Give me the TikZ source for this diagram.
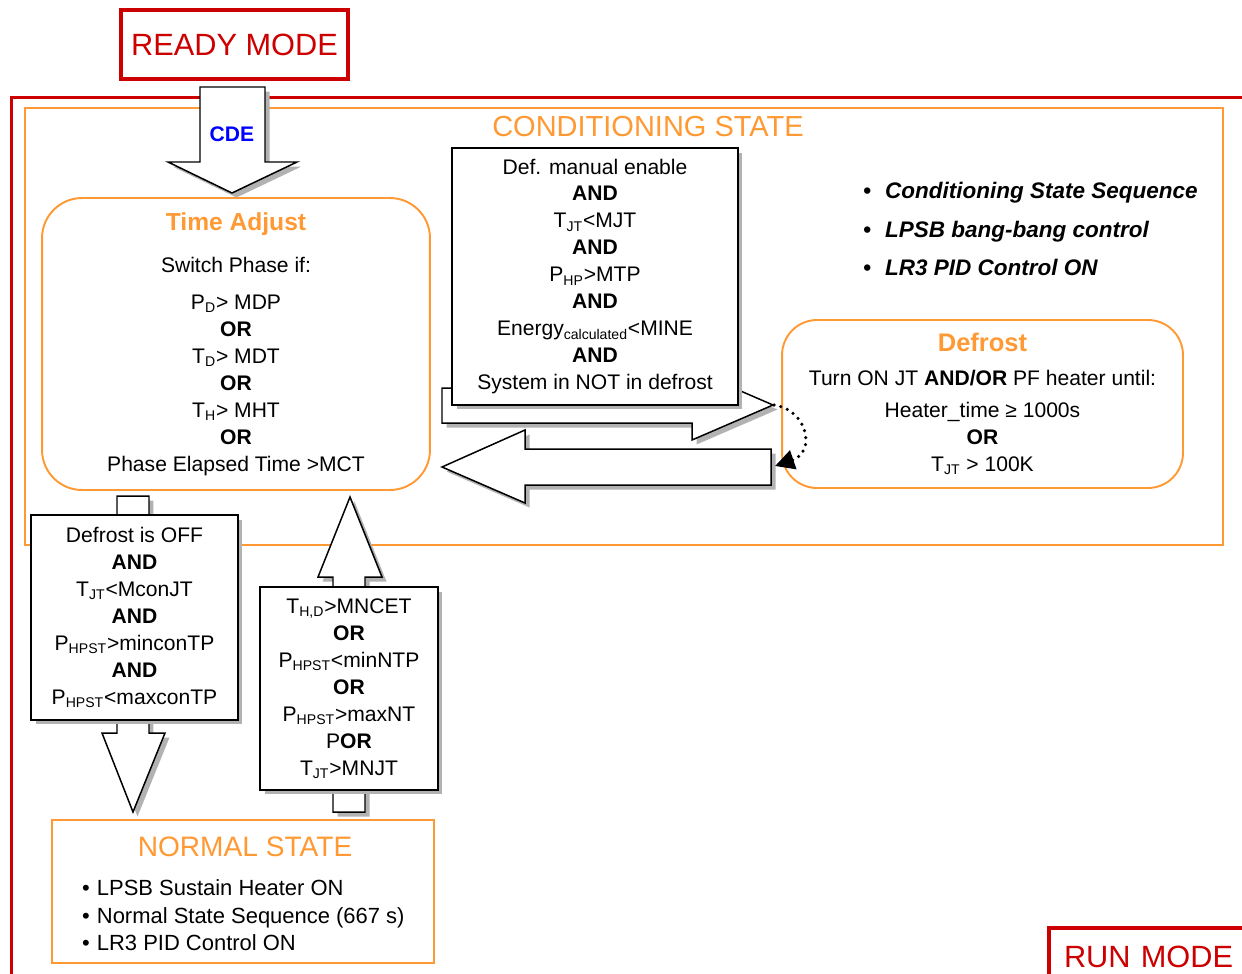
\documentclass[tikz,border=0pt]{standalone}
\usepackage{fontspec}
\setmainfont{Liberation Sans}
\usepackage{xcolor}
\usepackage{tikz}
\usetikzlibrary{arrows.meta,positioning,shadows}
\definecolor{modered}{HTML}{CC0000}
\definecolor{stateorange}{HTML}{FF9933}
\definecolor{cdeblue}{HTML}{0000FF}
\newcommand{\lsub}[1]{\textsubscript{#1}}
\newcommand{\fsz}[2]{\fontsize{#1}{#2}\selectfont}

\begin{document}
\begin{tikzpicture}[
    x=0.02cm, y=-0.02cm,
    modebox/.style={draw=modered, line width=2pt, text=modered, font=\fsz{17.5}{21}},
    statebox/.style={draw=stateorange, line width=1.1pt},
    roundstate/.style={statebox, rounded corners=0.8cm, align=center, font=\fsz{12}{15.36}},
    boxshadow/.style={drop shadow={shadow xshift=0.09cm, shadow yshift=-0.09cm, fill=black!30, opacity=1}},
    condbox/.style={draw, fill=white, line width=0.85pt, align=center, font=\fsz{12}{15.36}, boxshadow},
    blockarrow/.style={draw, fill=white, line width=0.85pt, line join=miter, boxshadow},
    statetitle/.style={text=stateorange, font=\fsz{16.5}{20}},
    dottedarrow/.style={line width=2pt, dash pattern=on 0pt off 4pt, line cap=round, -{Triangle[length=11pt,width=11pt]}}
]
\useasboundingbox (0,0) rectangle (1242,974);
\clip (0,0) rectangle (1242,974);

% run mode frame and ready mode
\node[draw=modered, line width=2pt, outer sep=0, anchor=north west, minimum width=26cm, minimum height=19cm] (runframe) at (11.5,97.5) {};
\node[modebox, minimum width=4.54cm, minimum height=1.38cm] (ready) at (234.5,44.5) {READY MODE};

% conditioning state
\node[statebox, outer sep=0, minimum width=23.96cm, minimum height=8.74cm] (cond) at (624,326.5) {};
\node[statetitle] (condtitle) at (648,127) {CONDITIONING STATE};

\node[roundstate, minimum width=7.76cm, minimum height=5.84cm] (timeadj) at (236,344) {%
  {\color{stateorange}\bfseries\fsz{14}{17}Time Adjust}\\[8.5pt]
  Switch Phase if:\\[5.7pt]
  P\lsub{D}> MDP\\
  \textbf{OR}\\
  T\lsub{D}> MDT\\
  \textbf{OR}\\
  T\lsub{H}> MHT\\
  \textbf{OR}\\
  Phase Elapsed Time >MCT};

\node[roundstate, rounded corners=0.7cm, minimum width=8.02cm, minimum height=3.36cm] (defrost) at (982.5,404) {%
  {\color{stateorange}\bfseries\fsz{14.5}{17}Defrost}\\[4pt]
  Turn ON JT \textbf{AND/OR} PF heater until:\\[2.8pt]
  Heater\_time ≥ 1000s\\
  \textbf{OR}\\
  T\lsub{JT} > 100K};

\node[anchor=west, align=left, font=\bfseries\itshape\fsz{12.8}{21.9}] (condlist) at (857,229) {%
  \textbullet\hspace{8pt}Conditioning State Sequence\\
  \textbullet\hspace{8pt}LPSB bang-bang control\\
  \textbullet\hspace{8pt}LR3 PID Control ON};

% CDE entry arrow
\draw[blockarrow] (200,87) -- (265,87) -- (265,162) -- (297,162) -- (232,193) -- (168,162) -- (200,162) -- cycle;
\node[text=cdeblue, font=\bfseries\fsz{12}{14}] (cde) at (232,134) {CDE};

% defrost in / out arrows
\draw[blockarrow] (442,388) -- (692,388) -- (692,370) -- (773,405) -- (692,440) -- (692,423) -- (442,423) -- cycle;
\draw[blockarrow] (771,449) -- (525,449) -- (525,430) -- (442,467) -- (525,503) -- (525,485) -- (771,485) -- cycle;
\node[condbox, minimum width=5.72cm, minimum height=5.14cm] (defcond) at (595,276.5) {%
  Def. manual enable\\
  \textbf{AND}\\
  T\lsub{JT}<MJT\\
  \textbf{AND}\\
  P\lsub{HP}>MTP\\
  \textbf{AND}\\
  Energy\lsub{calculated}<MINE\\
  \textbf{AND}\\
  System in NOT in defrost};
\coordinate (rtip) at (774,405);
\coordinate (ltip) at (775,466);
\draw[dottedarrow] (rtip) .. controls (808,410) and (816,452) .. (ltip);

% to normal state
\draw[blockarrow] (117,496) -- (149,496) -- (149,733) -- (165,733) -- (133,812) -- (102,733) -- (117,733) -- cycle;
\node[condbox, minimum width=4.14cm, minimum height=4.1cm] (tonormal) at (134.5,617.5) {%
  Defrost is OFF\\
  \textbf{AND}\\
  T\lsub{JT}<MconJT\\
  \textbf{AND}\\
  P\lsub{HPST}>minconTP\\
  \textbf{AND}\\
  P\lsub{HPST}<maxconTP};

% back to conditioning
\draw[blockarrow] (350,497) -- (382,577) -- (365,577) -- (365,812) -- (333,812) -- (333,577) -- (318,577) -- cycle;
\node[condbox, minimum width=3.56cm, minimum height=4.06cm] (tocond) at (349,688.5) {%
  T\lsub{H,D}>MNCET\\
  \textbf{OR}\\
  P\lsub{HPST}<minNTP\\
  \textbf{OR}\\
  P\lsub{HPST}>maxNT\\
  P\textbf{OR}\\
  T\lsub{JT}>MNJT};

% normal state
\node[statebox, fill=white, minimum width=7.64cm, minimum height=2.86cm] (normal) at (243,891.5) {};
\node[statetitle, font=\fsz{16}{20}] (normaltitle) at (245,847) {NORMAL STATE};
\node[anchor=west, align=left, font=\fsz{12.5}{15.6}] (normallist) at (76,915.5) {%
  \textbullet\hspace{4pt}LPSB Sustain Heater ON\\
  \textbullet\hspace{4pt}Normal State Sequence (667 s)\\
  \textbullet\hspace{4pt}LR3 PID Control ON};

% run mode label
\node[modebox, fill=white, anchor=north west, outer sep=0, inner xsep=0.3cm, text width=4cm, align=left, minimum height=1.15cm] (runlabel) at (1049,928) {RUN MODE};
\end{tikzpicture}
\end{document}
